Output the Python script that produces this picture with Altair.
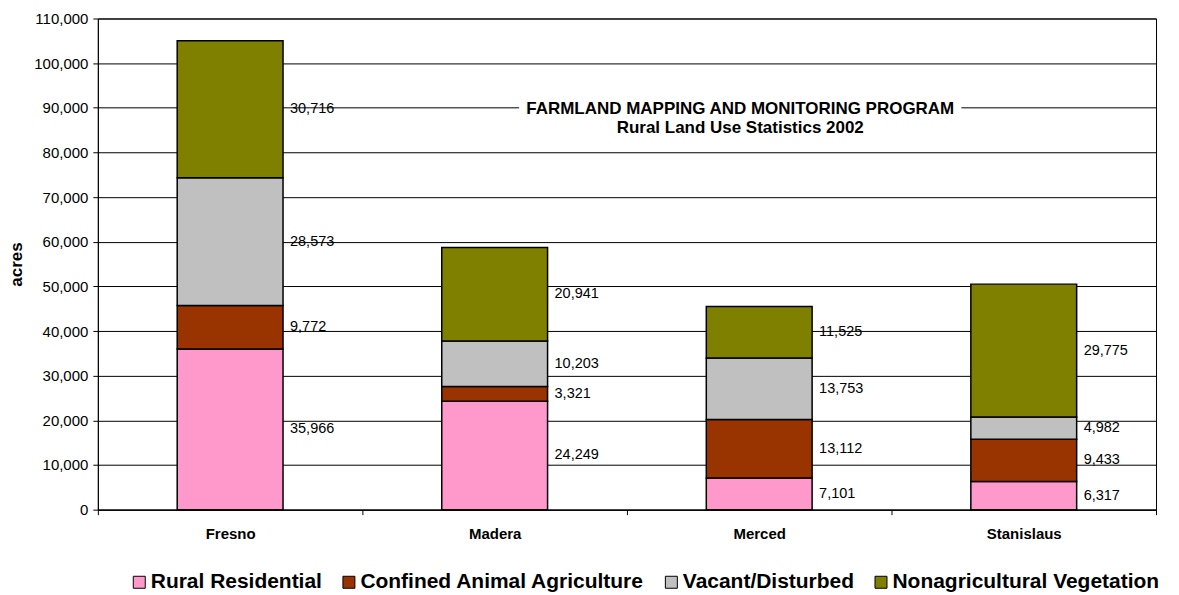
import altair as alt
import pandas as pd

counties = ["Fresno", "Madera", "Merced", "Stanislaus"]
categories = ["Rural Residential", "Confined Animal Agriculture",
              "Vacant/Disturbed", "Nonagricultural Vegetation"]
colors = ["#FF99CC", "#993300", "#C0C0C0", "#808000"]
rural_residential = [35966, 24249, 7101, 6317]
confined_animal = [9772, 3321, 13112, 9433]
vacant_disturbed = [28573, 10203, 13753, 4982]
nonag_vegetation = [30716, 20941, 11525, 29775]
y_ticks = [0, 10000, 20000, 30000, 40000, 50000, 60000, 70000, 80000, 90000, 100000, 110000]
title_lines = ["FARMLAND MAPPING AND MONITORING PROGRAM", "Rural Land Use Statistics 2002"]
y_title = "acres"

series = [rural_residential, confined_animal, vacant_disturbed, nonag_vegetation]
rows = []
for ci, (cat, vals) in enumerate(zip(categories, series)):
    for county, v in zip(counties, vals):
        rows.append({"county": county, "category": cat, "idx": ci, "value": v})
df = pd.DataFrame(rows)

FONT = "Liberation Sans"

base = alt.Chart(df).transform_stack(
    stack="value", groupby=["county"],
    sort=[alt.SortField("idx", order="ascending")],
    as_=["v0", "v1"],
)

x_axis = alt.Axis(title=None, labelAngle=0, labelFont=FONT, labelFontSize=15,
                  labelFontWeight="bold", labelColor="black", labelPadding=12,
                  tickBand="extent", tickSize=5, tickColor="black",
                  domainColor="black", grid=False)
x_scale = alt.Scale(paddingInner=0, paddingOuter=0)
y_axis = alt.Axis(title=y_title, values=y_ticks, format=",.0f",
                  labelFont=FONT, labelFontSize=15, labelColor="black",
                  labelPadding=5, tickSize=5, tickColor="black",
                  domainColor="black", gridColor="black", gridOpacity=1,
                  gridWidth=1, titleFont=FONT, titleFontSize=17,
                  titleFontWeight="bold", titleColor="black",
                  titlePadding=8)
y_scale = alt.Scale(domain=[0, 110000], nice=False)

bars = base.mark_bar(stroke="black", strokeWidth=1.5,
                     width=alt.RelativeBandSize(0.4)).encode(
    x=alt.X("county:N", sort=counties, scale=x_scale, axis=x_axis),
    y=alt.Y("v0:Q", scale=y_scale, axis=y_axis),
    y2="v1:Q",
    color=alt.Color("category:N",
                    scale=alt.Scale(domain=categories, range=colors),
                    sort=categories,
                    legend=alt.Legend(title=None, orient="none", legendX=31,
                                      legendY=554, direction="horizontal",
                                      columns=4, symbolType="square",
                                      symbolSize=144, symbolStrokeColor="black",
                                      symbolStrokeWidth=1, symbolOpacity=1,
                                      labelFont=FONT, labelFontSize=21,
                                      labelFontWeight="bold", labelColor="black",
                                      columnPadding=16, labelOffset=1,
                                      labelLimit=500)),
    order=alt.Order("idx:Q", sort="ascending"),
)

labels = base.transform_calculate(
    mid="(datum.v0 + datum.v1) / 2"
).mark_text(align="left", baseline="middle", dx=60, font=FONT,
            fontSize=14.5, color="black").encode(
    x=alt.X("county:N", sort=counties, scale=x_scale, axis=x_axis),
    y=alt.Y("mid:Q", scale=y_scale, axis=y_axis),
    text=alt.Text("value:Q", format=","),
)

one = pd.DataFrame({"k": [0]})
title_bg = alt.Chart(one).mark_rect(color="white").encode(
    x=alt.value(422), x2=alt.value(865), y=alt.value(79), y2=alt.value(100))
title1 = alt.Chart(one).mark_text(
    text=title_lines[0], font=FONT, fontSize=17, fontWeight="bold",
    color="black", align="center", baseline="alphabetic").encode(
    x=alt.value(643.5), y=alt.value(96))
title2 = alt.Chart(one).mark_text(
    text=title_lines[1], font=FONT, fontSize=17, fontWeight="bold",
    color="black", align="center", baseline="alphabetic").encode(
    x=alt.value(643.5), y=alt.value(115))

chart = alt.layer(bars, labels, title_bg, title1, title2).properties(
    width=1060, height=492,
    padding={"left": 90, "top": 10, "right": 15, "bottom": 85},
    autosize=alt.AutoSizeParams(type="none"),
    background="white",
).configure_view(stroke="black", strokeWidth=1)

chart.save("out.html", embed_options={"renderer": "svg", "actions": False})
